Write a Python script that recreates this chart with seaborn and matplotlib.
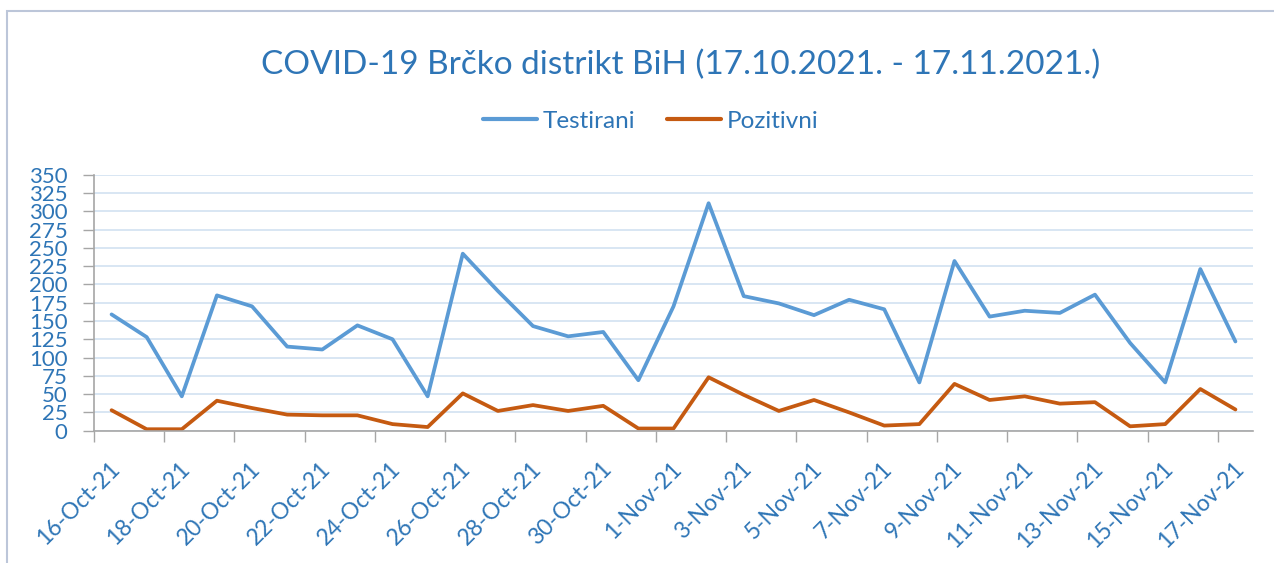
import matplotlib
matplotlib.use("Agg")
import matplotlib.pyplot as plt
import matplotlib.transforms as mtransforms
from matplotlib.patches import Rectangle
import seaborn as sns
import pandas as pd
import numpy as np

# daily values, 16-Oct-21 .. 17-Nov-21
dates = pd.date_range("2021-10-16", "2021-11-17", freq="D")
testirani = [159, 128, 47, 185, 170, 115, 111, 144, 125, 47, 242, 191, 143, 129, 135, 69, 170,
             311, 184, 174, 158, 179, 166, 66, 232, 156, 164, 161, 186, 120, 66, 221, 122]
pozitivni = [28, 2, 2, 41, 31, 22, 21, 21, 9, 5, 51, 27, 35, 27, 34, 3, 3,
             73, 49, 27, 42, 25, 7, 9, 64, 42, 47, 37, 39, 6, 9, 57, 29]
series_names = ["Testirani", "Pozitivni"]
series_colors = ["#5B9BD5", "#C55A11"]
y_ticks = list(range(0, 351, 25))
title = "COVID-19 Brčko distrikt BiH (17.10.2021. - 17.11.2021.)"

text_blue = "#2E75B6"
axis_gray = "#A6A6A6"

df = pd.DataFrame({"day": np.arange(len(dates)), "Testirani": testirani, "Pozitivni": pozitivni})
long_df = df.melt(id_vars="day", var_name="serija", value_name="broj")

sns.set_theme(style="white")
plt.rcParams["font.family"] = ["Lato", "DejaVu Sans"]

fig = plt.figure(figsize=(12.74, 5.63), dpi=100)
ax = fig.add_axes([94 / 1274, 1 - 430.7 / 563, (1253 - 94) / 1274, 256 / 563])

sns.lineplot(data=long_df, x="day", y="broj", hue="serija", hue_order=series_names,
             palette=series_colors, linewidth=2.7, ax=ax, legend=False)

ax.set_xlim(-0.5, len(dates) - 0.5)
ax.set_ylim(0, 350)
ax.set_xlabel("")
ax.set_ylabel("")

# y axis (labels packed tightly, like the original)
ax.set_yticks(y_ticks)
ax.set_yticklabels([str(v) for v in y_ticks], color=text_blue, fontsize=16)
ax.tick_params(axis="y", which="major", direction="out", length=8, width=1,
               color=axis_gray, pad=11, left=True)
ax.yaxis.grid(True, color="#D6E4F2", linewidth=1.3)
ax.set_axisbelow(True)

# x axis: labels every 2nd day, tick marks between categories
lbl_pos = np.arange(0, len(dates), 2)
ax.set_xticks(lbl_pos)
ax.set_xticklabels([f"{d.day}-{d.strftime('%b-%y')}" for d in dates[lbl_pos]],
                   color=text_blue, fontsize=16.5, rotation=45, ha="right",
                   rotation_mode="anchor", va="center")
ax.set_xticks(np.arange(-0.5, len(dates) - 1, 2), minor=True)
ax.tick_params(axis="x", which="major", length=0, pad=25)
ax.tick_params(axis="x", which="minor", direction="out", length=8, width=1,
               color=axis_gray, bottom=True)
shift = mtransforms.ScaledTranslation(5 / 100, 0, fig.dpi_scale_trans)
for lab in ax.get_xticklabels():
    lab.set_transform(lab.get_transform() + shift)

for side in ["top", "right"]:
    ax.spines[side].set_visible(False)
for side in ["left", "bottom"]:
    ax.spines[side].set_color(axis_gray)
    ax.spines[side].set_linewidth(1.2)

# title and legend
fig.text(681 / 1274, 1 - 65 / 563, title, ha="center", va="center",
         color=text_blue, fontsize=24)
handles = [plt.Line2D([], [], color=c, linewidth=3) for c in series_colors]
fig.legend(handles, series_names, loc="center", bbox_to_anchor=(651 / 1274, 1 - 121 / 563),
           ncol=2, frameon=False, fontsize=17.5, labelcolor=text_blue,
           handlelength=2.2, handletextpad=0.25, columnspacing=1.3)

# chart area border
fig.patches.append(Rectangle((7 / 1274, -0.1), 1.2, (1 - 11 / 563) + 0.1,
                             transform=fig.transFigure, fill=False,
                             edgecolor="#BCC6D9", linewidth=1.5))

fig.savefig("out.png", dpi=100)
